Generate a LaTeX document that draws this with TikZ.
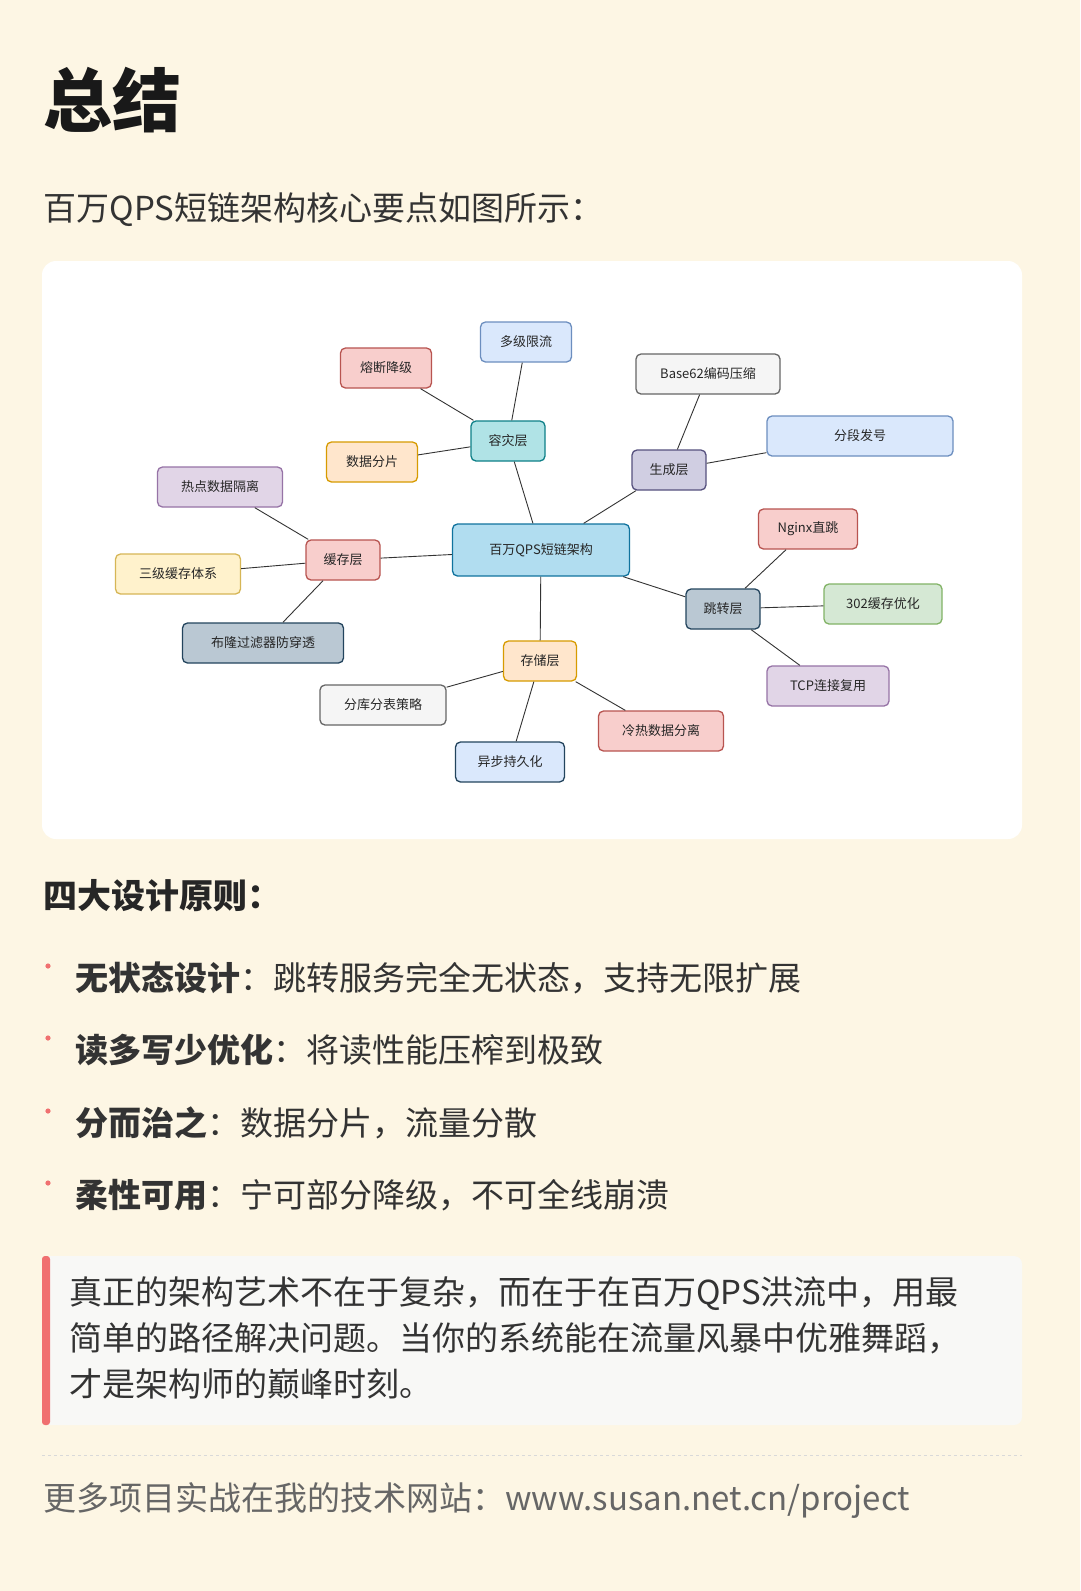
\documentclass[tikz,border=0pt]{standalone}
\usepackage{fontspec}
\setmainfont{Noto Sans CJK SC}
\begin{document}
\begin{tikzpicture}[x=1pt,y=-1pt,
  mm/.style={draw,rounded corners=5pt,line width=1.3pt,minimum height=40pt,font=\fontsize{13}{13}\selectfont,text=black!85,inner sep=0pt},
  ln/.style={draw=black!80,line width=0.9pt},
  big/.style={anchor=base west,font=\fontsize{33}{33}\selectfont,text=black!80},
]
\useasboundingbox (0,0) rectangle (1080,1591);
\fill[fill={rgb,255:red,253;green,246;blue,228}] (0,0) rectangle (1080,1591);
\fill[white,rounded corners=14pt] (42,261) rectangle (1022,839);
\node[anchor=base west,font=\fontsize{69}{69}\bfseries\selectfont,text=black!90] (title) at (40,126) {总结};
\node[big] (sub) at (40,220) {百万QPS短链架构核心要点如图所示：};
% mind map
\definecolor{bF}{HTML}{DAE8FC}\definecolor{bD}{HTML}{6C8EBF}
\definecolor{rF}{HTML}{F8CECC}\definecolor{rD}{HTML}{B85450}
\definecolor{tF}{HTML}{B0E3E6}\definecolor{tD}{HTML}{0E8088}
\definecolor{oF}{HTML}{FFE6CC}\definecolor{oD}{HTML}{D79B00}
\definecolor{gF}{HTML}{F5F5F5}\definecolor{gD}{HTML}{666666}
\definecolor{pF}{HTML}{D0CEE2}\definecolor{pD}{HTML}{56517E}
\definecolor{vF}{HTML}{E1D5E7}\definecolor{vD}{HTML}{9673A6}
\definecolor{cF}{HTML}{B1DDF0}\definecolor{cD}{HTML}{10739E}
\definecolor{yF}{HTML}{FFF2CC}\definecolor{yD}{HTML}{D6B656}
\definecolor{sF}{HTML}{BAC8D3}\definecolor{sD}{HTML}{23445D}
\definecolor{nF}{HTML}{D5E8D4}\definecolor{nD}{HTML}{82B366}
\node[mm,fill=cF,draw=cD,minimum width=177pt,minimum height=52pt] (root) at (541,550) {百万QPS短链架构};
\node[mm,fill=tF,draw=tD,minimum width=74pt] (zr) at (508,441) {容灾层};
\node[mm,fill=bF,draw=bD,minimum width=91pt] (xl) at (526,342) {多级限流};
\node[mm,fill=rF,draw=rD,minimum width=91pt] (rd) at (386,368) {熔断降级};
\node[mm,fill=oF,draw=oD,minimum width=91pt] (sj) at (372,462) {数据分片};
\node[mm,fill=pF,draw=pD,minimum width=74pt] (sc) at (669,470) {生成层};
\node[mm,fill=gF,draw=gD,minimum width=144pt] (b62) at (708,374) {Base62编码压缩};
\node[mm,fill=bF,draw=bD,minimum width=186pt] (fd) at (860,436) {分段发号};
\node[mm,fill=rF,draw=rD,minimum width=74pt] (hc) at (343,560) {缓存层};
\node[mm,fill=vF,draw=vD,minimum width=125pt] (rdgl) at (220,487) {热点数据隔离};
\node[mm,fill=yF,draw=yD,minimum width=125pt] (sjhc) at (178,574) {三级缓存体系};
\node[mm,fill=sF,draw=sD,minimum width=161pt] (bl) at (263,643) {布隆过滤器防穿透};
\node[mm,fill=sF,draw=sD,minimum width=74pt] (tz) at (723,609) {跳转层};
\node[mm,fill=rF,draw=rD,minimum width=99pt] (ng) at (808,529) {Nginx直跳};
\node[mm,fill=nF,draw=nD,minimum width=118pt] (c302) at (883,604) {302缓存优化};
\node[mm,fill=vF,draw=vD,minimum width=122pt] (tcp) at (828,686) {TCP连接复用};
\node[mm,fill=oF,draw=oD,minimum width=73pt] (cc) at (540,661) {存储层};
\node[mm,fill=gF,draw=gD,minimum width=126pt] (fk) at (383,705) {分库分表策略};
\node[mm,fill=rF,draw=rD,minimum width=125pt] (lr) at (661,731) {冷热数据分离};
\node[mm,fill=bF,draw=sD,minimum width=109pt] (yb) at (510,762) {异步持久化};
\foreach \a/\b in {root/zr,zr/xl,zr/rd,zr/sj,root/sc,sc/b62,sc/fd,root/hc,hc/rdgl,hc/sjhc,hc/bl,root/tz,tz/ng,tz/c302,tz/tcp,root/cc,cc/fk,cc/lr,cc/yb}
  \draw[ln] (\a) -- (\b);
% principles
\node[anchor=base west,font=\fontsize{34}{34}\bfseries\selectfont,text=black!85] (h4) at (40,908) {四大设计原则：};
\definecolor{dotc}{HTML}{F07070}
\foreach \y/\k/\v [count=\i] in {990/无状态设计/跳转服务完全无状态，支持无限扩展,1062/读多写少优化/将读性能压榨到极致,1135/分而治之/数据分片，流量分散,1207/柔性可用/宁可部分降级，不可全线崩溃}{
  \fill[dotc] (48,\y-24) circle (2.6pt);
  \node[big] (p\i) at (72,\y) {\textbf{\k}：\v};
}
% quote
\definecolor{qbg}{HTML}{F8F8F6}
\fill[qbg,rounded corners=8pt] (42,1256) rectangle (1022,1425);
\fill[dotc,rounded corners=3pt] (42,1256) rectangle (50,1425);
\node[anchor=north west,align=left,font=\fontsize{33}{46}\selectfont,text=black!80,inner sep=0pt] (q) at (69,1276) {真正的架构艺术不在于复杂，而在于在百万QPS洪流中，用最\\简单的路径解决问题。当你的系统能在流量风暴中优雅舞蹈，\\才是架构师的巅峰时刻。};
\draw[black!15,dashed,line width=0.6pt] (42,1455) -- (1022,1455);
\node[anchor=base west,font=\fontsize{33}{33}\selectfont,text=black!60] (ft) at (40,1510) {更多项目实战在我的技术网站：www.susan.net.cn/project};
\end{tikzpicture}
\end{document}
